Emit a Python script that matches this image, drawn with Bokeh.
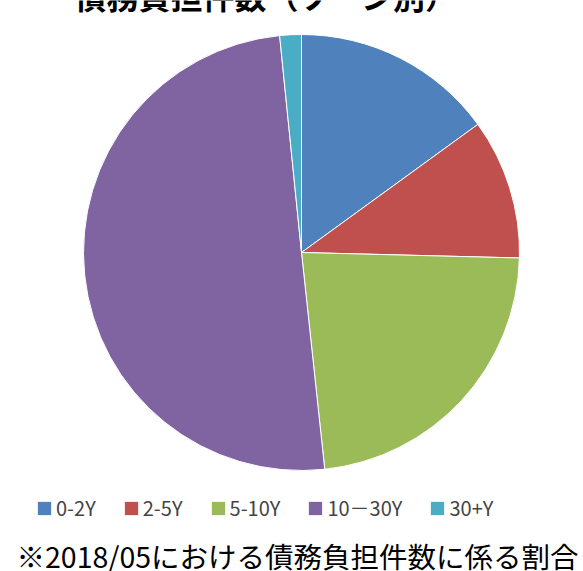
import math
import pandas as pd
from bokeh.plotting import figure
from bokeh.models import Range1d, Legend, LegendItem, ColumnDataSource
from bokeh.core.properties import value
from bokeh.embed import file_html
from bokeh.resources import INLINE

title_text = "債務負担件数（ゾーン別）"
note_text = "※2018/05における債務負担件数に係る割合"
categories = ["0-2Y", "2-5Y", "5-10Y", "10－30Y", "30+Y"]
shares = [15.0, 10.4, 22.9, 50.1, 1.6]
colors = ["#4F81BD", "#C0504D", "#9BBB59", "#8064A2", "#4BACC6"]

W, H = 583, 571
df = pd.DataFrame({"cat": categories, "val": shares, "color": colors})
ang = df["val"] / df["val"].sum() * 2 * math.pi
cum = ang.cumsum()
df["start"] = math.pi / 2 - (cum - ang)
df["end"] = math.pi / 2 - cum
src = ColumnDataSource(df)

p = figure(width=W, height=H, output_backend="svg", toolbar_location=None,
           x_range=Range1d(0, W), y_range=Range1d(0, H), min_border=0)
p.axis.visible = False
p.grid.visible = False
p.outline_line_color = None

cx, cy, r = 301, H - 252, 218
wr = p.wedge(x=cx, y=cy, radius=r, start_angle="start", end_angle="end",
             direction="clock", fill_color="color", line_color="white",
             line_width=1, source=src)

font = "Noto Sans CJK JP"
p.text(x=[266], y=[H + 6], text=[title_text], text_font=value(font),
       text_font_size="32px", text_font_style="bold", text_align="center",
       text_baseline="middle", text_color="black")
p.text(x=[16], y=[H - 555], text=[note_text], text_font=value(font),
       text_font_size="28.5px", text_align="left", text_baseline="middle",
       text_color="black")

items = [LegendItem(label=c, renderers=[wr], index=i) for i, c in enumerate(categories)]
legend = Legend(items=items, orientation="horizontal", location=(35, 49),
                glyph_width=18, glyph_height=18, label_standoff=3, spacing=26,
                padding=0, margin=0, border_line_color=None,
                background_fill_alpha=0, label_text_font=font,
                label_text_font_size="20px", label_height=20)
p.add_layout(legend, "center")

open("out.html", "w").write(file_html(p, INLINE))
